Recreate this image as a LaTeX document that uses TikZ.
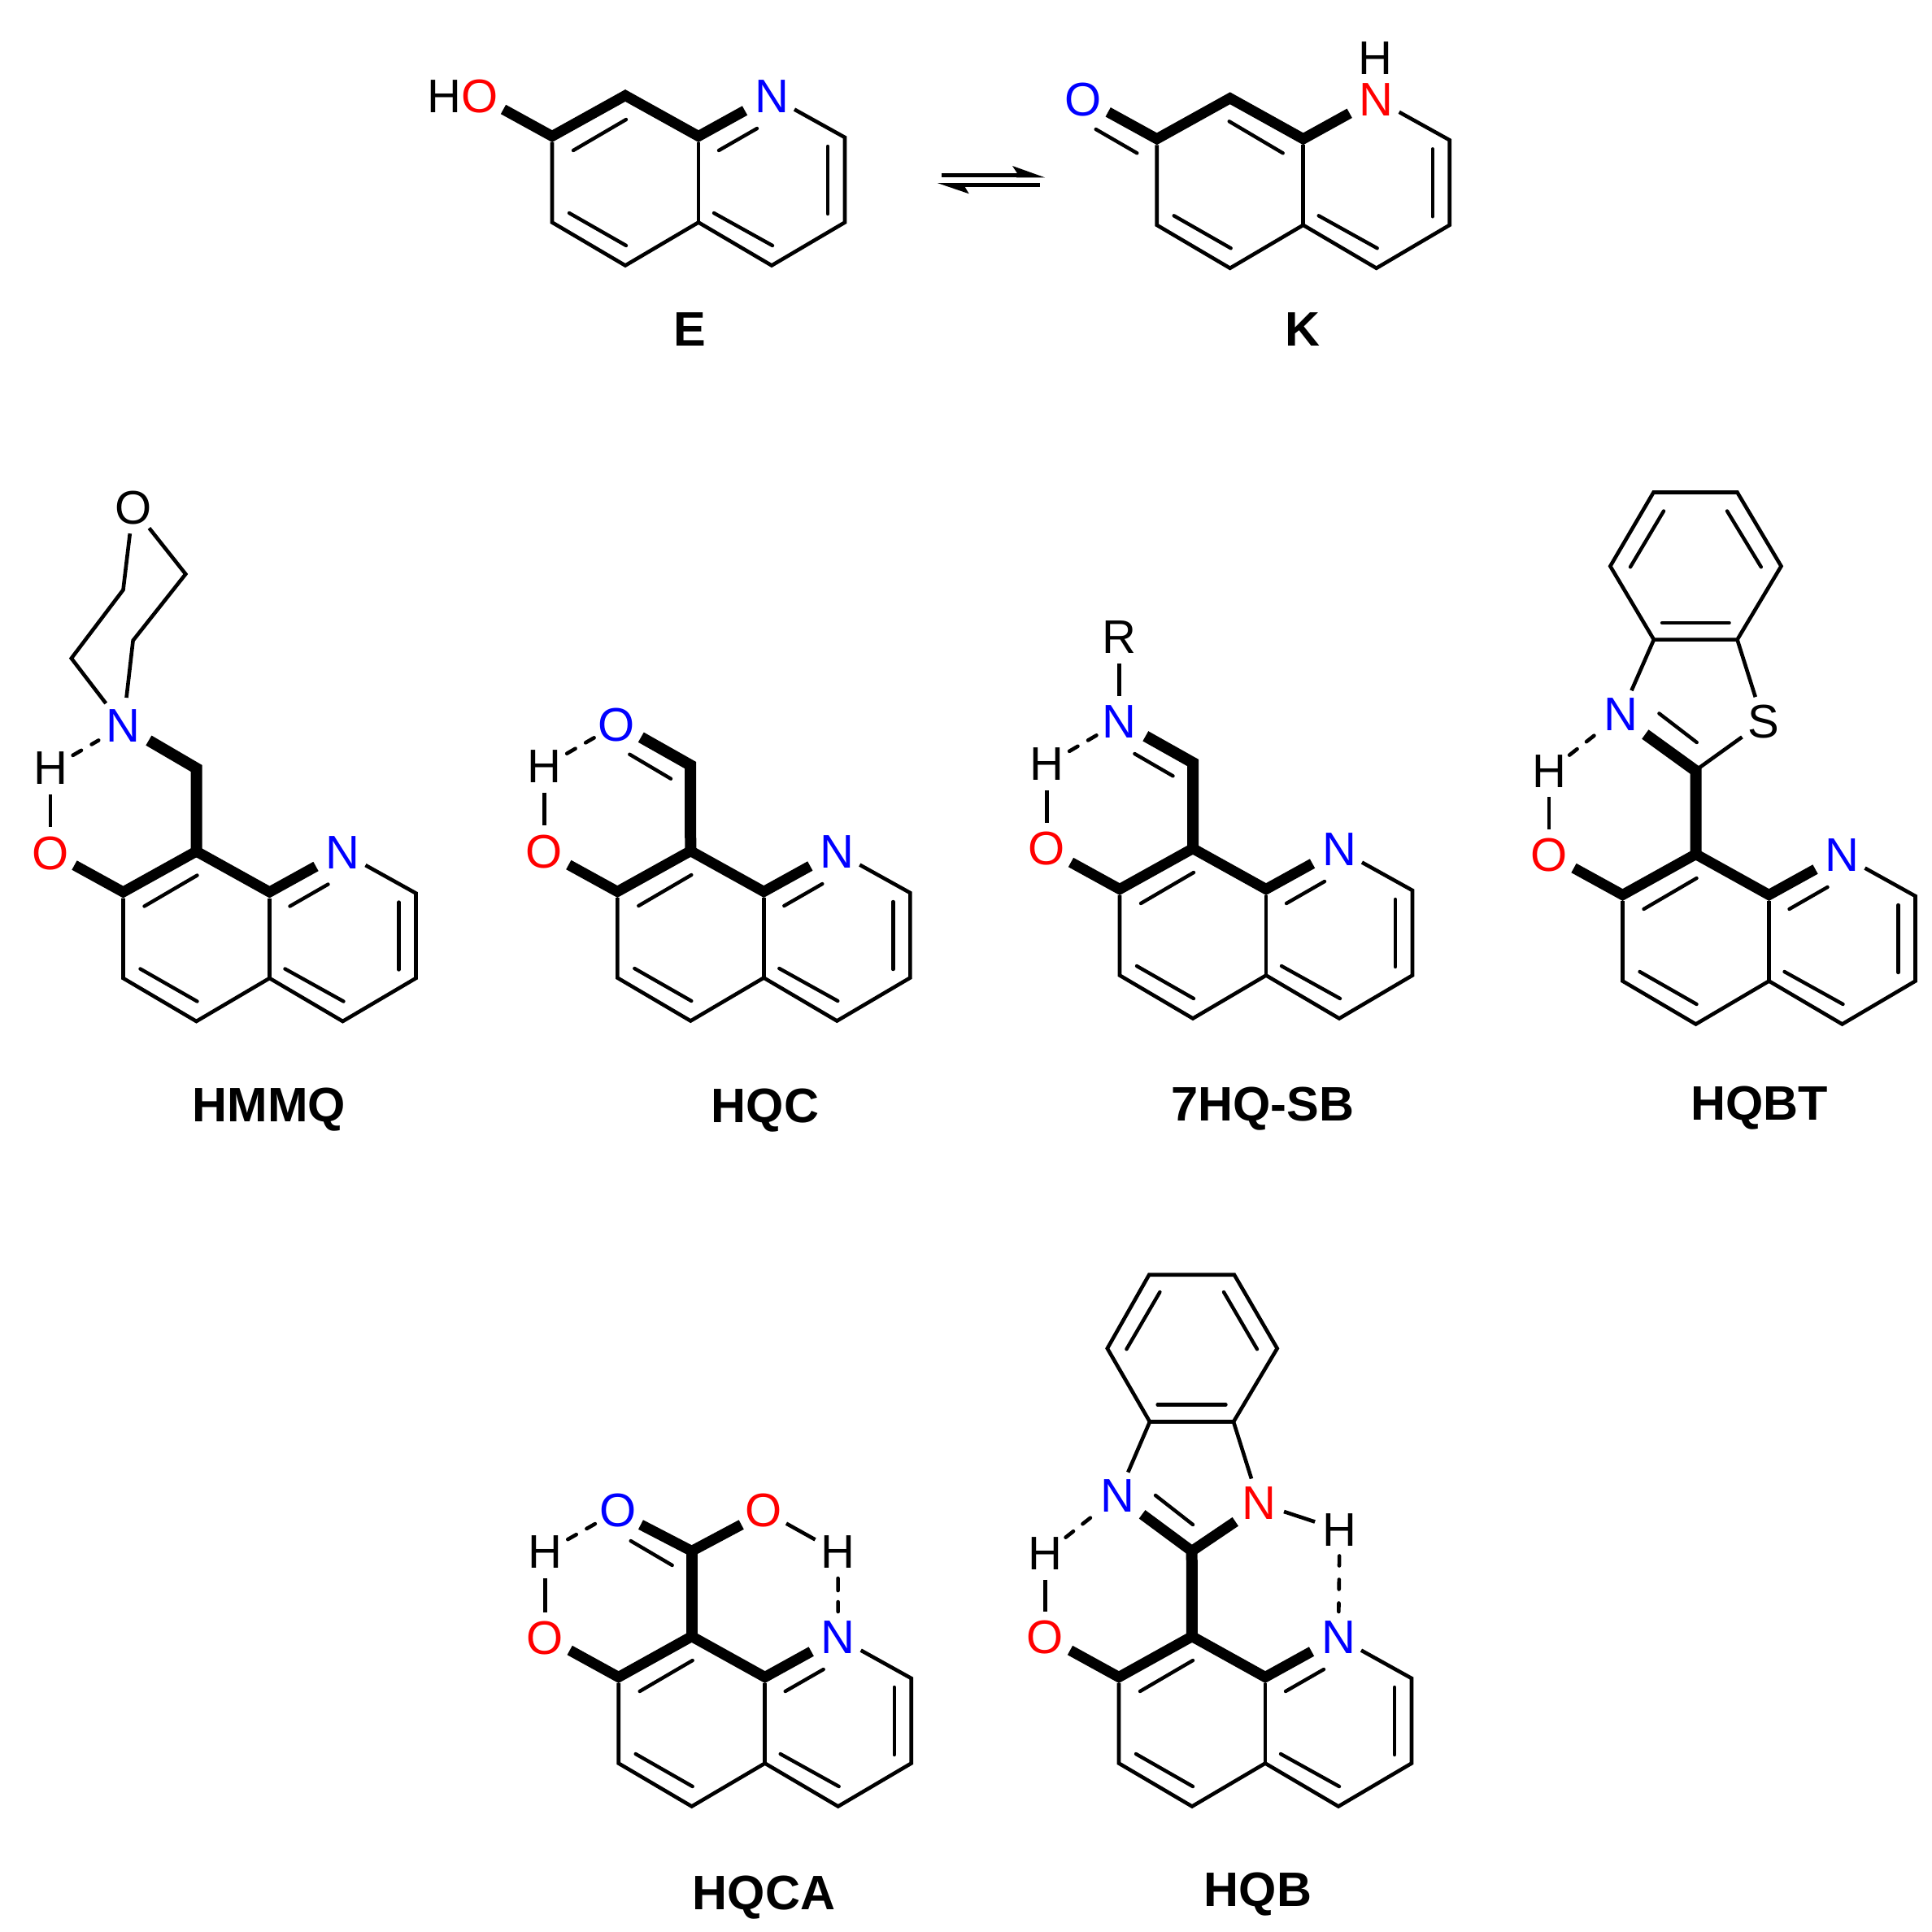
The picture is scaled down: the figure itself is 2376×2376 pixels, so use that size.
\documentclass[tikz,border=0pt]{standalone}
\usepackage{fontspec}
\setmainfont{Liberation Sans}
\definecolor{atomred}{RGB}{255,0,0}
\definecolor{atomblue}{RGB}{0,0,255}
\tikzset{
  atom/.style={circle,inner sep=0pt,outer sep=0pt,minimum size=64pt,font=\fontsize{58}{60}\selectfont},
  molname/.style={anchor=base,inner sep=0pt,font=\fontsize{59.5}{62}\selectfont\bfseries},
  thinbond/.style={line width=4.6pt,line join=miter,line cap=butt},
  innerbond/.style={line width=4.4pt,line cap=round},
  boldbond/.style={line width=13pt,line join=miter,miter limit=10,line cap=butt},
  barbond/.style={line width=14pt,line join=miter,miter limit=10,line cap=butt},
  hbond/.style={line width=4.6pt,line cap=round,dash pattern=on 12pt off 14.6pt},
}
% ring skeleton common to all: prefix, x, y of C7, colour of N
\newcommand\quinring[4]{%
  \begin{scope}[shift={(#2,#3)}]
    \coordinate (#1c7) at (0,0);
    \coordinate (#1c6) at (0,98.5);
    \coordinate (#1c5) at (90,151.5);
    \coordinate (#1c4a) at (180,98.5);
    \coordinate (#1c8a) at (180,0);
    \coordinate (#1c8) at (90,-50);
    \coordinate (#1c4) at (270,151.5);
    \coordinate (#1c3) at (360,98.5);
    \coordinate (#1c2) at (360,-6);
    \node[atom,text=#4] (#1N) at (270,-56) {N};
    \coordinate (#1bo) at (-60,-40.5);
    \coordinate (#1b7) at (0,-7.5);
    \coordinate (#1b8) at (90,-57.5);
    \coordinate (#1ba) at (180,-7.5);
    \coordinate (#1bn) at (237,-39);
    \coordinate (#1i5a) at (21,87);
    \coordinate (#1i5b) at (91,127);
    \coordinate (#1i4a) at (199,87);
    \coordinate (#1i4b) at (271,127);
    \coordinate (#1i2a) at (339,5);
    \coordinate (#1i2b) at (339,88);
    \coordinate (#1i7a) at (26,10);
    \coordinate (#1i7b) at (91,-28);
    \coordinate (#1ina) at (205,10);
    \coordinate (#1inb) at (252,-17);
    \coordinate (#1i8a) at (89,-29);
    \coordinate (#1i8b) at (155,10);
  \end{scope}
  \draw[thinbond] (#1c7) -- (#1c6) -- (#1c5) -- (#1c4a) -- (#1c4) -- (#1c3) -- (#1c2) -- (#1N);
  \draw[thinbond] (#1c8a) -- (#1c4a);
  \draw[innerbond] (#1i5a) -- (#1i5b);
  \draw[innerbond] (#1i4a) -- (#1i4b);
  \draw[innerbond] (#1i2a) -- (#1i2b);
  \draw[boldbond] (#1bo) -- (#1b7) -- (#1b8) -- (#1ba) -- (#1bn);
}
% the enol form: two further inner double-bond strokes
\newcommand\enol[1]{%
  \draw[innerbond] (#1i7a) -- (#1i7b);
  \draw[innerbond] (#1ina) -- (#1inb);
}
\begin{document}
\begin{tikzpicture}[x=1pt,y=-1pt]
\useasboundingbox[fill=white] (0,0) rectangle (2376,2376);

% ---------- E
\quinring{E-}{679}{175}{atomblue}
\enol{E-}
\node[inner sep=0pt,outer sep=0pt,font=\fontsize{58}{60}\selectfont] (E-HO) at (569,118.5) {H\textcolor{atomred}{O}};
\node[molname] (E-name) at (848,425) {E};

% ---------- K
\quinring{K-}{1422.7}{178.3}{atomred}
\draw[innerbond] (K-i8a) -- (K-i8b);
\node[atom,text=atomblue] (K-O) at (1332.3,122.3) {O};
\node[inner sep=0pt,outer sep=0pt,font=\fontsize{58}{60}\selectfont] (K-H) at (1691.7,71.7) {H};
\coordinate (K-oa) at (1347.7,159);
\coordinate (K-ob) at (1398.3,188.3);
\draw[innerbond] (K-oa) -- (K-ob);
\node[molname] (K-name) at (1602,425) {K};

% ---------- equilibrium arrows
\coordinate (eq1a) at (1158,215.5);
\coordinate (eq1b) at (1265,215.5);
\coordinate (eq2a) at (1170,227.5);
\coordinate (eq2b) at (1279,227.5);
\draw[line width=5.6pt] (eq1a) -- (eq1b);
\draw[line width=5.2pt] (eq2a) -- (eq2b);
\fill (1245,204) -- (1285,218.3) -- (1250,218.3) -- (1250.7,212.7) -- cycle;
\fill (1152.7,225) -- (1191.7,238.3) -- (1186.7,230) -- (1187,225) -- cycle;

% ---------- HMMQ
\quinring{M-}{151.5}{1104.5}{atomblue}
\enol{M-}
\node[atom,text=atomred] (M-O) at (62,1049.4) {O};
\node[atom] (M-H) at (62,945) {H};
\node[atom,minimum size=70pt,text=atomblue] (M-Na) at (151.5,892.8) {N};
\node[atom] (M-Ob) at (163.6,624.4) {O};
\coordinate (M-r1) at (151.5,725.4);
\coordinate (M-r2) at (87.8,809.6);
\coordinate (M-r3) at (228.3,706);
\coordinate (M-r4) at (163.6,787.7);
\coordinate (M-arm) at (182.9,910.6);
\coordinate (M-ch) at (241.7,945);
\draw[thinbond] (M-H) -- (M-O);
\draw[hbond] (M-H) -- (M-Na);
\draw[thinbond] (M-Ob) -- (M-r1) -- (M-r2) -- (M-Na);
\draw[thinbond] (M-Ob) -- (M-r3) -- (M-r4) -- (M-Na);
\draw[barbond] (M-arm) -- (M-ch) -- (M-c8);
\node[molname] (M-name) at (331,1379.5) {HMMQ};

% ---------- HQC
\quinring{C-}{759.3}{1104}{atomblue}
\enol{C-}
\node[atom,text=atomred] (C-O) at (669.5,1047.3) {O};
\node[atom] (C-H) at (669.5,942.7) {H};
\node[atom,text=atomblue] (C-Ob) at (758.3,891.3) {O};
\coordinate (C-arm) at (788.3,906.7);
\coordinate (C-ch) at (849,941);
\coordinate (C-ia) at (774.3,927.7);
\coordinate (C-ib) at (825,957.7);
\draw[thinbond] (C-H) -- (C-O);
\draw[hbond] (C-H) -- (C-Ob);
\draw[barbond] (C-arm) -- (C-ch) -- (C-c8);
\draw[innerbond] (C-ia) -- (C-ib);
\node[molname] (C-name) at (941,1380) {HQC};

% ---------- 7HQ-SB
\quinring{S-}{1377}{1101}{atomblue}
\enol{S-}
\node[atom,text=atomred] (S-O) at (1287.5,1044) {O};
\node[atom] (S-H) at (1287.5,940) {H};
\node[atom,text=atomblue] (S-Nb) at (1376.7,887.8) {N};
\node[atom] (S-R) at (1376.7,784) {R};
\coordinate (S-arm) at (1408.8,905.3);
\coordinate (S-ch) at (1467,938);
\coordinate (S-ia) at (1395.4,927);
\coordinate (S-ib) at (1442.5,954.3);
\draw[thinbond] (S-H) -- (S-O);
\draw[hbond] (S-H) -- (S-Nb);
\draw[thinbond] (S-R) -- (S-Nb);
\draw[barbond] (S-arm) -- (S-ch) -- (S-c8);
\draw[innerbond] (S-ia) -- (S-ib);
\node[molname] (S-name) at (1553,1378) {7HQ-SB};

% ---------- HQBT
\quinring{T-}{1995.5}{1108}{atomblue}
\enol{T-}
\node[atom,text=atomred] (T-O) at (1905,1052) {O};
\node[atom] (T-H) at (1905,948.4) {H};
\node[atom,text=atomblue] (T-Nb) at (1993.6,878.5) {N};
\node[atom] (T-S) at (2168.4,887.7) {S};
\coordinate (T-b1) at (2033.5,605.5);
\coordinate (T-b2) at (2136.5,605.5);
\coordinate (T-b3) at (2190.5,696.3);
\coordinate (T-b4) at (2136.5,786.6);
\coordinate (T-b5) at (2033.9,786.6);
\coordinate (T-b6) at (1980.3,696.3);
\coordinate (T-i1a) at (2046,628.5);
\coordinate (T-i1b) at (2005,697.3);
\coordinate (T-i2a) at (2124,628.5);
\coordinate (T-i2b) at (2165.8,697.3);
\coordinate (T-i3a) at (2044,766);
\coordinate (T-i3b) at (2126.6,766);
\coordinate (T-arm) at (2023.3,903);
\coordinate (T-ch) at (2085.5,948);
\coordinate (T-sv) at (2090,944);
\coordinate (T-ia) at (2040.4,877.4);
\coordinate (T-ib) at (2086.7,913);
\draw[thinbond] (T-b1) -- (T-b2) -- (T-b3) -- (T-b4) -- (T-b5) -- (T-b6) -- cycle;
\draw[innerbond] (T-i1a) -- (T-i1b);
\draw[innerbond] (T-i2a) -- (T-i2b);
\draw[innerbond] (T-i3a) -- (T-i3b);
\draw[thinbond] (T-b5) -- (T-Nb);
\draw[thinbond] (T-b4) -- (T-S);
\draw[thinbond] (T-sv) -- (T-S);
\draw[thinbond] (T-H) -- (T-O);
\draw[hbond] (T-H) -- (T-Nb);
\draw[barbond] (T-arm) -- (T-ch) -- (T-c8);
\draw[innerbond] (T-ia) -- (T-ib);
\node[molname] (T-name) at (2164,1377) {HQBT};

% ---------- HQCA
\quinring{A-}{760.7}{2070}{atomblue}
\enol{A-}
\node[atom,text=atomred] (A-O) at (670.5,2015) {O};
\node[atom] (A-H) at (670.5,1909) {H};
\node[atom,text=atomblue] (A-Ob) at (760,1858) {O};
\node[atom,text=atomred] (A-Oc) at (939,1858) {O};
\node[atom] (A-Hb) at (1030.5,1909) {H};
\coordinate (A-arml) at (788,1875);
\coordinate (A-armr) at (911.7,1875);
\coordinate (A-ch) at (850.7,1907.5);
\coordinate (A-ia) at (775.7,1895);
\coordinate (A-ib) at (826.7,1925);
\draw[thinbond] (A-H) -- (A-O);
\draw[hbond] (A-H) -- (A-Ob);
\draw[thinbond] (A-Oc) -- (A-Hb);
\draw[line width=4.6pt,line cap=round,dash pattern=on 15pt off 14pt] (A-Hb) -- (A-N);
\draw[boldbond] (A-arml) -- (A-ch) -- (A-armr);
\draw[barbond] (A-ch) -- (A-c8);
\draw[innerbond] (A-ia) -- (A-ib);
\node[molname] (A-name) at (939.5,2348) {HQCA};

% ---------- HQB
\quinring{B-}{1376}{2070}{atomblue}
\enol{B-}
\node[atom,text=atomred] (B-O) at (1285.5,2014) {O};
\node[atom] (B-H) at (1285.5,1910.5) {H};
\node[atom,text=atomblue] (B-Nb) at (1374.6,1840) {N};
\node[atom,text=atomred] (B-Nc) at (1548.6,1849) {N};
\node[atom] (B-Hb) at (1647.5,1881.5) {H};
\coordinate (B-b1) at (1413.2,1567.7);
\coordinate (B-b2) at (1517.9,1567.7);
\coordinate (B-b3) at (1570.7,1658.3);
\coordinate (B-b4) at (1517,1748.5);
\coordinate (B-b5) at (1414,1748.5);
\coordinate (B-b6) at (1361.8,1658.3);
\coordinate (B-i1a) at (1426.4,1589);
\coordinate (B-i1b) at (1385.4,1659.2);
\coordinate (B-i2a) at (1505,1589);
\coordinate (B-i2b) at (1546,1659.2);
\coordinate (B-i3a) at (1423.6,1727.5);
\coordinate (B-i3b) at (1507.5,1727.5);
\coordinate (B-arml) at (1404.6,1862.3);
\coordinate (B-armr) at (1519.3,1871.3);
\coordinate (B-ch) at (1465.7,1907.5);
\coordinate (B-ia) at (1421,1839);
\coordinate (B-ib) at (1467,1875);
\draw[thinbond] (B-b1) -- (B-b2) -- (B-b3) -- (B-b4) -- (B-b5) -- (B-b6) -- cycle;
\draw[innerbond] (B-i1a) -- (B-i1b);
\draw[innerbond] (B-i2a) -- (B-i2b);
\draw[innerbond] (B-i3a) -- (B-i3b);
\draw[thinbond] (B-b5) -- (B-Nb);
\draw[thinbond] (B-b4) -- (B-Nc);
\draw[thinbond] (B-H) -- (B-O);
\draw[hbond] (B-H) -- (B-Nb);
\draw[thinbond] (B-Nc) -- (B-Hb);
\draw[line width=4.6pt,line cap=round,dash pattern=on 12pt off 17pt] (B-Hb) -- (B-N);
\draw[boldbond] (B-arml) -- (B-ch) -- (B-armr);
\draw[barbond] (B-ch) -- (B-c8);
\draw[innerbond] (B-ia) -- (B-ib);
\node[molname] (B-name) at (1547,2344) {HQB};
\end{tikzpicture}
\end{document}
